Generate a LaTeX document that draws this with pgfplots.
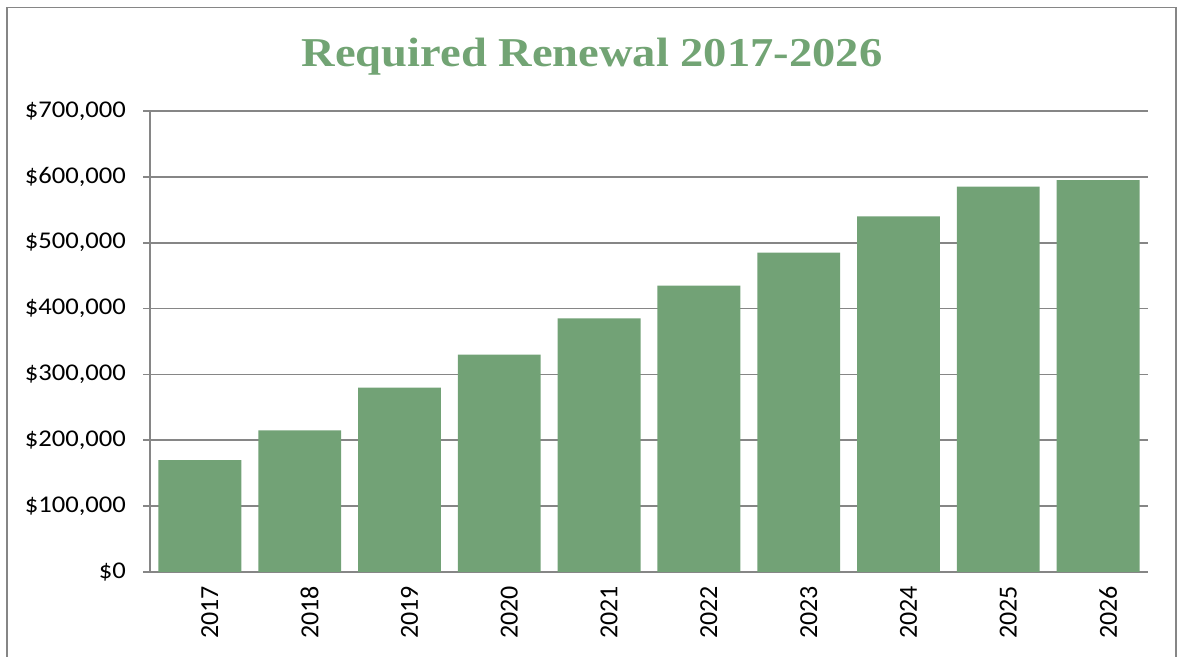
\documentclass[border=0pt]{standalone}
\usepackage{pgfplots}
\pgfplotsset{compat=1.18}
\usepackage{fontspec}
\setmainfont{Carlito}
\newfontfamily\titlefont{Liberation Serif}
\definecolor{bargreen}{RGB}{114,162,118}
\definecolor{titlegreen}{RGB}{114,164,116}
\definecolor{linegray}{RGB}{134,134,134}
\newcommand\yl[1]{\scalebox{1.11}[1]{#1}}
\begin{document}
\begin{tikzpicture}
\useasboundingbox (0,0) rectangle (589pt,328.5pt);
\begin{scope}
\clip (0,0) rectangle (589pt,328.5pt);
\draw[linegray, line width=0.9pt] (3.5pt,-5pt) rectangle (588pt,324.75pt);
\end{scope}
\node[anchor=base, font=\titlefont\bfseries\fontsize{20.5}{24}\selectfont, text=titlegreen] at (296pt,295pt) {\scalebox{1.135}[1]{Required Renewal 2017-2026}};
\begin{axis}[
  at={(75pt,42.5pt)}, anchor=south west,
  scale only axis, width=499pt, height=230.5pt,
  xmin=-0.5, xmax=9.5, ymin=0, ymax=700000,
  axis lines*=left,
  axis line style={linegray, line width=0.8pt},
  xtick={0,...,9},
  xticklabels={2017,2018,2019,2020,2021,2022,2023,2024,2025,2026},
  x tick label style={rotate=90, anchor=east, font=\fontsize{13}{15}\selectfont},
  xtick style={draw=none},
  extra x ticks={-0.5,0.5,1.5,2.5,3.5,4.5,5.5,6.5,7.5,8.5,9.5},
  extra x tick labels={},
  extra x tick style={tick style={linegray, line width=0.8pt, draw=linegray}, major tick length=3.5pt, tick align=outside, grid=none},
  scaled y ticks=false,
  ytick={0,100000,200000,300000,400000,500000,600000,700000},
  yticklabels={\yl{\$0},\yl{\$100,000},\yl{\$200,000},\yl{\$300,000},\yl{\$400,000},\yl{\$500,000},\yl{\$600,000},\yl{\$700,000}},
  y tick label style={font=\fontsize{12}{14}\selectfont, xshift=-5pt},
  ytick style={linegray, line width=0.8pt},
  major tick length=3.5pt, tick align=outside,
  ymajorgrids, grid style={linegray, line width=0.8pt},
  xticklabel style={yshift=-5pt},
  clip=false,
]
\addplot[ybar, bar width=0.83, fill=bargreen, draw=none] coordinates {
(0,170000) (1,215000) (2,280000) (3,330000) (4,385000) (5,435000) (6,485000) (7,540000) (8,585000) (9,595000)
};
\end{axis}
\end{tikzpicture}
\end{document}
